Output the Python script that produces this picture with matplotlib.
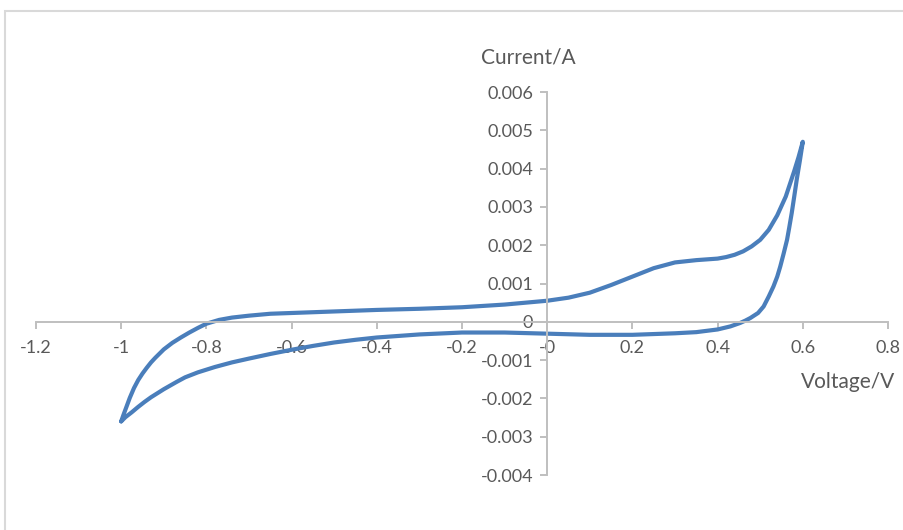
import matplotlib.pyplot as plt
import matplotlib.ticker as mticker
from matplotlib.patches import Rectangle
import numpy as np

plt.rcParams['font.family'] = ['Lato', 'DejaVu Sans']
plt.rcParams['axes.unicode_minus'] = False

# forward sweep, -1 V -> 0.6 V
v_fwd = [-1.0, -0.995, -0.99, -0.98, -0.97, -0.96, -0.95, -0.94, -0.93, -0.92,
         -0.9, -0.88, -0.86, -0.84, -0.82, -0.8, -0.77, -0.74, -0.7, -0.65,
         -0.6, -0.5, -0.4, -0.3, -0.2, -0.1, 0.0, 0.05, 0.1, 0.15,
         0.2, 0.25, 0.3, 0.35, 0.4, 0.42, 0.44, 0.46, 0.48, 0.5,
         0.52, 0.54, 0.56, 0.58, 0.59, 0.6]
i_fwd = [-0.0026, -0.00244, -0.00229, -0.00199, -0.00173, -0.00152, -0.00135, -0.0012, -0.00106, -0.00094,
         -0.00072, -0.00055, -0.00041, -0.00028, -0.00016, -0.00005, 0.00005, 0.00011, 0.00016, 0.00021,
         0.00023, 0.00027, 0.00031, 0.00034, 0.00038, 0.00045, 0.00055, 0.00063, 0.00076, 0.00096,
         0.00118, 0.0014, 0.00155, 0.00161, 0.00165, 0.00169, 0.00175, 0.00184, 0.00197, 0.00214,
         0.0024, 0.00278, 0.00327, 0.00394, 0.0043, 0.0047]

# reverse sweep, 0.6 V -> -1 V
v_rev = [0.6, 0.593, 0.586, 0.58, 0.574, 0.568, 0.563, 0.555, 0.547, 0.54,
         0.531, 0.52, 0.508, 0.495, 0.477, 0.465, 0.453, 0.43, 0.4, 0.35,
         0.3, 0.2, 0.1, 0.0, -0.1, -0.2, -0.3, -0.4, -0.45, -0.5,
         -0.55, -0.6, -0.65, -0.7, -0.74, -0.78, -0.82, -0.85, -0.87, -0.9,
         -0.93, -0.945, -0.96, -0.975, -0.99, -1.0]
i_rev = [0.0047, 0.0042, 0.00373, 0.00328, 0.00284, 0.00245, 0.00214, 0.00178, 0.00144, 0.00118,
         0.00092, 0.00066, 0.0004, 0.00023, 0.0001, 0.00003, -0.00003, -0.00012, -0.0002, -0.00027,
         -0.0003, -0.00034, -0.00034, -0.00031, -0.00028, -0.00028, -0.00033, -0.00041, -0.00047, -0.00054,
         -0.00063, -0.00073, -0.00084, -0.00096, -0.00106, -0.00118, -0.00132, -0.00145, -0.00157, -0.00176,
         -0.00197, -0.00209, -0.00222, -0.00236, -0.00249, -0.0026]

voltage = v_fwd + v_rev[1:]
current = i_fwd + i_rev[1:]

W, H = 904, 530
fig = plt.figure(figsize=(W / 100, H / 100), dpi=100)

# chart area border
fig.patches.append(Rectangle((5 / W, -0.2), 2.0, 1.2 - 11 / H, transform=fig.transFigure,
                             fill=False, edgecolor='#d9d9d9', linewidth=1.5))

ax = fig.add_axes([36 / W, (H - 475) / H, 852 / W, 383 / H])
ax.patch.set_visible(False)

ax.plot(voltage, current, color='#4a7ebb', linewidth=3.0,
        solid_joinstyle='round', solid_capstyle='round')

ax.set_xlim(-1.2, 0.8)
ax.set_ylim(-0.004, 0.006)
ax.set_xticks(np.round(np.arange(-1.2, 0.81, 0.2), 1))
ax.set_yticks(np.round(np.arange(-0.004, 0.0061, 0.001), 3))
ax.xaxis.set_major_formatter(mticker.FuncFormatter(lambda x, p: f'{x:g}'))
ax.yaxis.set_major_formatter(mticker.FuncFormatter(lambda y, p: f'{y:.3f}' if abs(y) > 1e-9 else '0'))

for s in ['top', 'right']:
    ax.spines[s].set_visible(False)
for s in ['left', 'bottom']:
    ax.spines[s].set_position(('data', 0))
    ax.spines[s].set_color('#bfbfbf')
    ax.spines[s].set_linewidth(1.4)

ax.tick_params(axis='both', direction='out', length=5, width=1.4, color='#bfbfbf',
               labelcolor='#595959', labelsize=13)
ax.tick_params(axis='x', pad=8)
ax.tick_params(axis='y', pad=5)

fig.text(528 / W, 1 - 58 / H, 'Current/A', ha='center', va='center', fontsize=15, color='#595959')
fig.text(895 / W, 1 - 382 / H, 'Voltage/V', ha='right', va='center', fontsize=15, color='#595959')

fig.savefig('out.png', dpi=100)
